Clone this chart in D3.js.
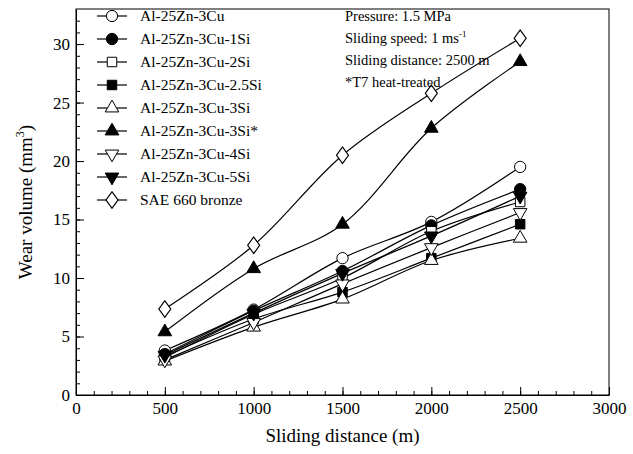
<!DOCTYPE html>
<html>
<head>
<meta charset="utf-8">
<script src="https://cdn.jsdelivr.net/npm/d3@7"></script>
<style>
	body { margin: 0; background: #fff; }
	svg { display: block; }
	svg text { font-family: "Liberation Serif", "Times New Roman", serif; fill: #000; }
</style>
</head>
<body>
<div id="chart"></div>
<script>
// distances (m)
const distances = [500, 1000, 1500, 2000, 2500];

// wear volume (mm3) per alloy
const cu      = [3.8, 7.3, 11.7, 14.8, 19.5];
const cu1Si   = [3.5, 7.2, 10.6, 14.5, 17.6];
const cu2Si   = [3.2, 6.9, 10.0, 14.0, 16.5];
const cu25Si  = [3.3, 6.5, 8.8, 11.7, 14.6];
const cu3Si   = [2.9, 5.8, 8.2, 11.5, 13.4];
const cu3SiT7 = [5.4, 10.8, 14.6, 22.8, 28.5];
const cu4Si   = [3.0, 6.2, 9.5, 12.6, 15.6];
const cu5Si   = [3.4, 7.0, 10.4, 13.6, 17.0];
const bronze  = [7.35, 12.8, 20.5, 25.8, 30.5];

const seriesNames = ['Al-25Zn-3Cu', 'Al-25Zn-3Cu-1Si', 'Al-25Zn-3Cu-2Si', 'Al-25Zn-3Cu-2.5Si',
	'Al-25Zn-3Cu-3Si', 'Al-25Zn-3Cu-3Si*', 'Al-25Zn-3Cu-4Si', 'Al-25Zn-3Cu-5Si', 'SAE 660 bronze'];
const seriesValues = [cu, cu1Si, cu2Si, cu25Si, cu3Si, cu3SiT7, cu4Si, cu5Si, bronze];
const seriesShapes = ['circle', 'circle', 'square', 'square', 'triangle', 'triangle', 'triangleDown', 'triangleDown', 'diamond'];
const seriesFilled = [false, true, false, true, false, true, false, true, false];

const xTicks = [0, 500, 1000, 1500, 2000, 2500, 3000];
const yTicks = [0, 5, 10, 15, 20, 25, 30];

const notes = ['Pressure: 1.5 MPa', 'Sliding speed: 1 ms', 'Sliding distance: 2500 m', '*T7 heat-treated'];

const width = 633, height = 454,
	margin = {top: 9, right: 24, bottom: 59, left: 76},
	innerWidth = width - margin.left - margin.right,
	innerHeight = height - margin.top - margin.bottom;

const svg = d3.select('#chart').append('svg')
	.attr('width', width)
	.attr('height', height);

const x = d3.scaleLinear().domain([0, 3000]).range([0, innerWidth]);
const y = d3.scaleLinear().domain([0, 33]).range([innerHeight, 0]);

const g = svg.append('g')
	.attr('transform', `translate(${margin.left}, ${margin.top})`);

// ###
// AXES
// ###

g.append('g')
	.attr('class', 'x axis')
	.attr('transform', `translate(0, ${innerHeight})`)
	.call(d3.axisBottom(x).tickValues(xTicks).tickFormat(d3.format('d'))
		.tickSizeInner(-8).tickSizeOuter(0).tickPadding(7));

g.append('g')
	.attr('class', 'minor')
	.attr('transform', `translate(0, ${innerHeight})`)
	.call(d3.axisBottom(x).tickValues(d3.range(0, 3001, 100)).tickSizeInner(-4).tickSizeOuter(0));

g.append('g')
	.attr('class', 'y axis')
	.call(d3.axisLeft(y).tickValues(yTicks).tickFormat(d3.format('d'))
		.tickSizeInner(-8).tickSizeOuter(0).tickPadding(6));

g.append('g')
	.attr('class', 'minor')
	.call(d3.axisLeft(y).tickValues(d3.range(0, 33, 1)).tickSizeInner(-4).tickSizeOuter(0));

g.selectAll('.minor text, .minor .domain').remove();
g.selectAll('.axis')
	.attr('font-family', '"Liberation Serif", serif')
	.attr('font-size', 17);
g.selectAll('.tick line, .domain').attr('stroke', '#000');

// frame
g.append('rect')
	.attr('width', innerWidth)
	.attr('height', innerHeight)
	.attr('fill', 'none')
	.attr('stroke', '#000')
	.attr('stroke-width', 1);

// axis titles
svg.append('text')
	.attr('x', margin.left + innerWidth / 2)
	.attr('y', 442)
	.attr('text-anchor', 'middle')
	.attr('font-size', 19)
	.text('Sliding distance (m)');

const yTitle = svg.append('text')
	.attr('transform', `translate(32, ${margin.top + innerHeight / 2}) rotate(-90)`)
	.attr('text-anchor', 'middle')
	.attr('font-size', 19);
yTitle.append('tspan').text('Wear volume (mm');
yTitle.append('tspan').attr('font-size', 12).attr('dy', -8).text('3');
yTitle.append('tspan').attr('dy', 8).text(')');

// ###
// LINES AND MARKERS
// ###

const symbolFor = {
	circle: d3.symbolCircle,
	square: d3.symbolSquare,
	triangle: d3.symbolTriangle,
	triangleDown: d3.symbolTriangle,
	diamond: d3.symbolDiamond
};
const sizeFor = {circle: 100, square: 90, triangle: 80, triangleDown: 80, diamond: 80};

function marker(sel, shape, filled) {
	sel.append('path')
		.attr('d', d3.symbol().type(symbolFor[shape]).size(sizeFor[shape]))
		.attr('transform', shape === 'triangleDown' ? 'rotate(180)' : (shape === 'diamond' ? 'scale(1.25,1)' : null))
		.attr('fill', filled ? '#000' : '#fff')
		.attr('stroke', '#000')
		.attr('stroke-width', 1);
}

const line = d3.line()
	.curve(d3.curveCatmullRom.alpha(0.5))
	.x((d, i) => x(distances[i]))
	.y(d => y(d));

seriesValues.forEach(vals => {
	g.append('path')
		.datum(vals)
		.attr('d', line)
		.attr('fill', 'none')
		.attr('stroke', '#000')
		.attr('stroke-width', 1.2);
});

seriesValues.forEach((vals, s) => {
	vals.forEach((v, i) => {
		const m = g.append('g').attr('transform', `translate(${x(distances[i])}, ${y(v)})`);
		marker(m, seriesShapes[s], seriesFilled[s]);
	});
});

// ###
// LEGEND
// ###

const legend = svg.append('g').attr('transform', 'translate(97, 16)');
seriesNames.forEach((name, i) => {
	const row = legend.append('g').attr('transform', `translate(0, ${i * 23})`);
	row.append('line').attr('x1', 0).attr('x2', 30).attr('stroke', '#000').attr('stroke-width', 1.2);
	const m = row.append('g').attr('transform', 'translate(15, 0)');
	marker(m, seriesShapes[i], seriesFilled[i]);
	row.append('text')
		.attr('x', 43)
		.attr('y', 5)
		.attr('font-size', 15.5)
		.text(name);
});

// notes
const noteG = svg.append('g').attr('transform', 'translate(345, 21)');
notes.forEach((t, i) => {
	const txt = noteG.append('text')
		.attr('y', i * 22)
		.attr('font-size', 14.5)
		.text(t);
	if (i === 1) {
		txt.append('tspan').attr('dy', -6).attr('font-size', 9).text('-1');
	}
});
</script>
</body>
</html>
